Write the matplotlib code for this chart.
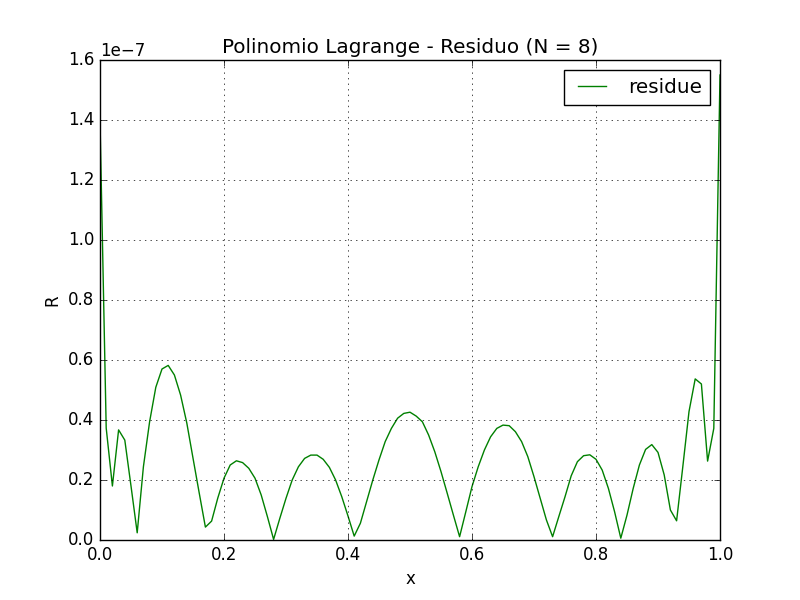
import numpy as np
import matplotlib
matplotlib.use("Agg")
from matplotlib import pyplot as plt

plt.style.use("classic")

# sample points (x = 0.00, 0.01, ... 1.00)
x = np.linspace(0.0, 1.0, 101)

# residue, in units of 1e-7
residue = [
    1.40, 0.373, 0.18, 0.367, 0.333, 0.18, 0.024, 0.244, 0.394, 0.509,
    0.57, 0.582, 0.55, 0.483, 0.39, 0.273, 0.157, 0.043, 0.063, 0.14,
    0.206, 0.25, 0.264, 0.258, 0.239, 0.206, 0.15, 0.078, 0.002, 0.072,
    0.139, 0.20, 0.244, 0.272, 0.283, 0.283, 0.269, 0.242, 0.20, 0.144,
    0.08, 0.013, 0.056, 0.128, 0.20, 0.267, 0.328, 0.372, 0.406, 0.422,
    0.426, 0.413, 0.394, 0.35, 0.294, 0.228, 0.156, 0.083, 0.011, 0.094,
    0.178, 0.244, 0.30, 0.344, 0.372, 0.383, 0.381, 0.361, 0.328, 0.278,
    0.211, 0.139, 0.067, 0.011, 0.078, 0.144, 0.214, 0.261, 0.281, 0.284,
    0.269, 0.233, 0.172, 0.094, 0.006, 0.083, 0.172, 0.25, 0.302, 0.318,
    0.292, 0.217, 0.10, 0.064, 0.244, 0.428, 0.537, 0.52, 0.263, 0.372,
    1.55,
]
R = np.array(residue) * 1e-7

fig = plt.figure(figsize=(8, 6), dpi=100)
ax = fig.add_subplot(111)
ax.plot(x, R, 'g', label='residue')
ax.set_title('Polinomio Lagrange - Residuo (N = 8)')
ax.set_xlabel('x')
ax.set_ylabel('R')
ax.set_xlim(0, 1)
ax.set_ylim(0, 1.6e-7)
ax.grid(True)
ax.legend()

fig.savefig('out.png', dpi=100)
